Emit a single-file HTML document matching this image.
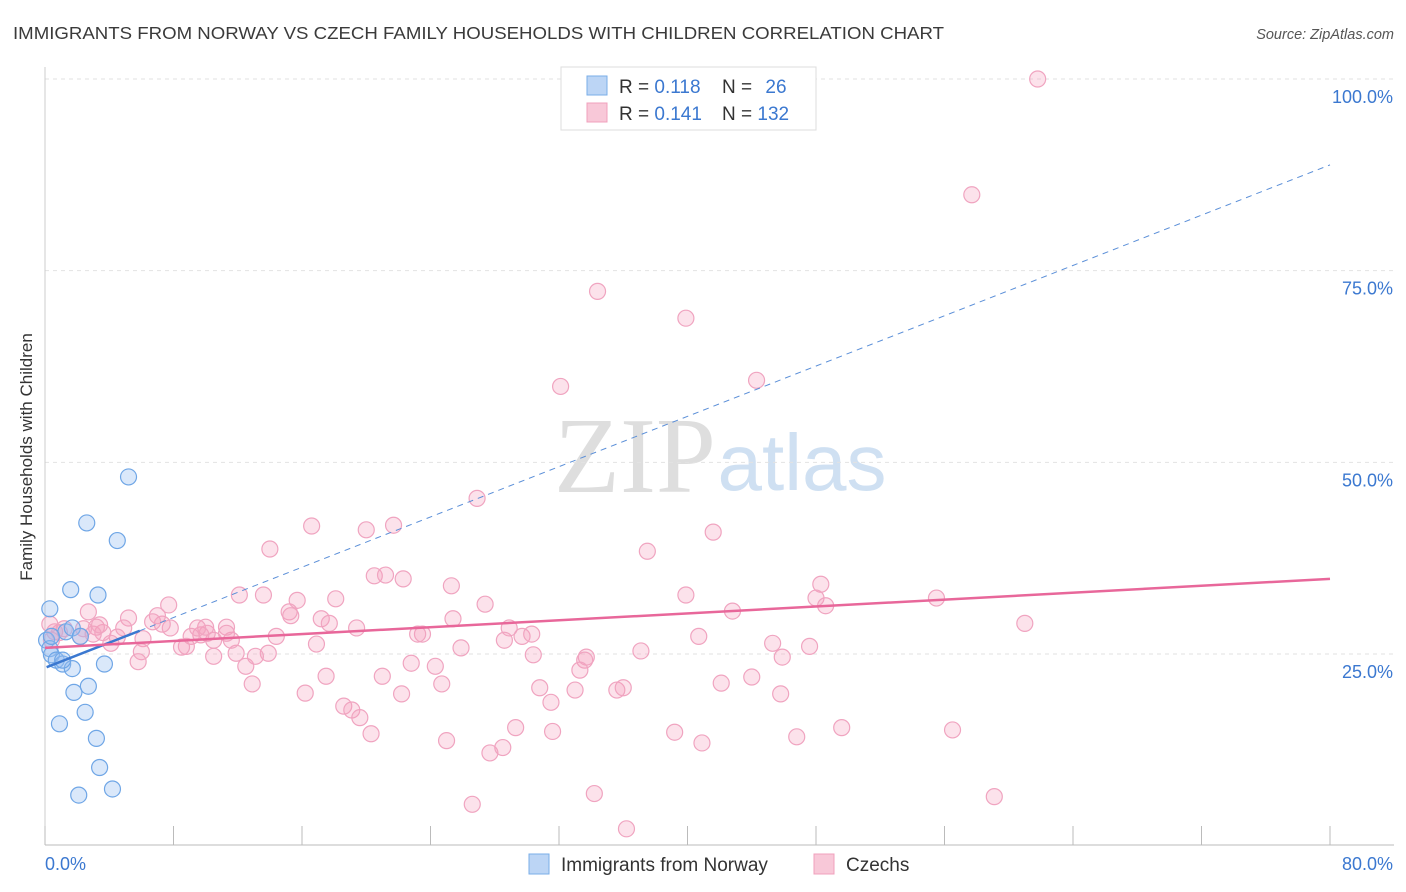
<!DOCTYPE html>
<html><head><meta charset="utf-8">
<style>
body{margin:0;background:#fff;font-family:"Liberation Sans",sans-serif;}
#wrap{position:relative;width:1406px;height:892px;overflow:hidden;}
</style></head>
<body>
<div id="wrap">
<svg id="chart" width="1406" height="892">
<text x="13" y="39" font-size="17.5" fill="#3a3a3a" textLength="931" lengthAdjust="spacingAndGlyphs">IMMIGRANTS FROM NORWAY VS CZECH FAMILY HOUSEHOLDS WITH CHILDREN CORRELATION CHART</text>
<text x="1394" y="39" font-size="14.5" fill="#555" font-style="italic" text-anchor="end">Source: ZipAtlas.com</text>
<text x="32" y="457" font-size="17" fill="#333" text-anchor="middle" transform="rotate(-90 32 457)">Family Households with Children</text>
<g>
<text x="635" y="492" font-size="108" fill="#dedede" font-family="Liberation Serif,serif" text-anchor="middle">ZIP</text>
<text x="802" y="490" font-size="80" fill="#cfe0f2" text-anchor="middle">atlas</text>
</g>
<g id="grid"></g>
<g id="axes"></g>
<g id="marks"></g>
<g id="lines"></g>
<g>
<rect x="561" y="67" width="255" height="63" fill="#fff" stroke="#ddd"/>
<rect x="587" y="76" width="20" height="19" fill="#bcd5f5" stroke="#7aaee8"/>
<rect x="587" y="103" width="20" height="19" fill="#f8c8d8" stroke="#f0a0bc"/>
<text x="619" y="93" font-size="19" fill="#333">R = <tspan fill="#3b78d0">0.118</tspan></text>
<text x="722" y="93" font-size="19" fill="#333">N = <tspan fill="#3b78d0" dx="8">26</tspan></text>
<text x="619" y="120" font-size="19" fill="#333">R = <tspan fill="#3b78d0">0.141</tspan></text>
<text x="722" y="120" font-size="19" fill="#333">N = <tspan fill="#3b78d0">132</tspan></text>
</g>
<g>
<rect x="529" y="854" width="20" height="20" fill="#bcd5f5" stroke="#7aaee8"/>
<text x="561" y="871" font-size="19" fill="#333">Immigrants from Norway</text>
<rect x="814" y="854" width="20" height="20" fill="#f8c8d8" stroke="#f0a0bc"/>
<text x="846" y="871" font-size="19" fill="#333">Czechs</text>
</g>
</svg>
</div>
<script>
const xTicks=[0,80];
const yTicks=[25,50,75,100];
const blueX=[0.3,0.1,0.3,0.4,0.7,1.1,1.7,1.1,1.6,2.6,4.5,5.2,3.3,1.3,1.7,2.2,3.7,1.8,2.7,0.9,2.5,3.2,3.4,2.1,4.2,0.4];
const blueY=[30.9,26.8,25.7,24.9,24.2,23.7,23.1,24.2,33.4,42.1,39.8,48.1,32.7,27.9,28.4,27.3,23.7,20.0,20.8,15.9,17.4,14.0,10.2,6.6,7.4,27.3];
const pinkX=[61.8,57.7,34.4,39.9,32.1,44.3,26.9,41.6,37.5,16.6,20.0,21.7,14.0,20.5,21.2,22.3,25.3,27.4,12.1,13.6,15.7,18.1,15.2,15.3,17.2,17.7,19.4,25.4,28.9,29.7,30.3,28.6,48.3,48.0,48.6,39.9,42.8,55.5,61.0,40.7,45.3,47.6,45.9,37.1,25.9,23.5,23.2,14.4,16.9,30.4,33.7,33.6,33.3,22.8,24.3,21.0,22.2,24.7,30.8,31.5,33.0,35.6,36.0,42.1,44.0,45.8,16.2,17.5,12.9,12.5,11.9,13.9,13.1,11.6,10.5,10.1,9.7,9.1,8.8,8.5,10.5,10.0,9.5,7.8,7.3,7.0,7.7,6.7,5.2,4.9,4.5,4.1,3.6,3.2,3.0,2.7,2.4,2.2,1.2,0.9,0.6,0.4,0.3,6.1,6.0,5.8,11.3,11.3,18.6,19.1,19.6,20.3,25.0,27.7,28.5,29.3,31.6,39.2,40.9,46.8,49.6,56.5,26.6,34.2,36.2,59.1,3.4];
const pinkY=[100.0,84.9,72.3,68.8,59.9,60.7,45.3,40.9,38.4,41.7,41.2,41.8,38.7,35.2,35.3,34.8,33.9,31.5,32.7,32.7,32.0,32.2,30.5,30.0,29.6,29.0,28.4,29.6,28.4,27.3,27.6,26.8,34.1,32.3,31.3,32.7,30.6,32.3,29.0,27.3,26.4,26.0,24.6,25.4,25.8,27.6,27.6,27.3,26.3,24.9,24.6,24.2,22.9,23.8,23.4,22.1,19.8,21.1,20.6,18.7,20.3,20.3,20.6,21.2,22.0,19.8,19.9,22.1,21.1,23.4,25.1,25.1,24.7,26.8,26.8,27.7,27.5,27.3,26.0,25.9,24.7,28.5,28.4,28.4,28.9,30.0,31.4,29.2,29.7,28.4,27.2,26.4,27.8,28.5,27.6,30.5,28.3,27.3,28.3,27.8,27.9,26.8,28.9,27.0,25.3,24.0,28.5,27.7,18.2,17.7,16.7,14.6,13.7,12.1,12.8,15.4,14.9,14.8,13.4,14.2,15.4,15.1,5.4,6.8,2.2,6.4,28.8];
const blueTrend=[23.2,88.8];
const pinkTrend=[25.8,34.8];
const blueSolidEnd=[5.9];

const NS="http://www.w3.org/2000/svg";
const X0=45,X1=1330,Y0=845.7,Y100=79;
const sx=v=>X0+(v-0)/80*(X1-X0);
const sy=v=>Y0-(v/100)*(Y0-Y100);
function mk(tag,attrs,parent){const e=document.createElementNS(NS,tag);for(const k in attrs)e.setAttribute(k,attrs[k]);parent.appendChild(e);return e;}
const grid=document.getElementById('grid'),axes=document.getElementById('axes'),marks=document.getElementById('marks'),lines=document.getElementById('lines');
yTicks.forEach(t=>{
  const l=mk('line',{x1:X0,x2:1394,y1:sy(t),y2:sy(t),stroke:'#e2e2e2','stroke-dasharray':'4,4'},grid);
  
  
  const tx=mk('text',{x:1393,y:sy(t)+24,'font-size':18,fill:'#3b78d0','text-anchor':'end'},axes);
  tx.textContent=t.toFixed(1)+'%';
  
  
});
const ax=mk('line',{x1:X0,x2:1394,y1:845,y2:845,stroke:'#bbb'},axes);


const ay=mk('line',{x1:X0,x2:X0,y1:67,y2:845,stroke:'#ccc'},axes);


for(let i=0;i<=10;i++){
  const v=i*8;
  const tk=mk('line',{x1:sx(v),x2:sx(v),y1:826,y2:845,stroke:'#bbb'},axes);
  
  
}
xTicks.forEach((t,i)=>{
  const tx=mk('text',{x:i==0?45:1393,y:870,'font-size':18,fill:'#3b78d0','text-anchor':i==0?'start':'end'},axes);
  tx.textContent=t.toFixed(1)+'%';
  
  
});
pinkX.forEach((x,i)=>{
  const c=mk('circle',{cx:sx(x),cy:sy(pinkY[i]),r:8,fill:'rgba(244,160,190,0.3)',stroke:'#f0a4c0','stroke-width':1.2},marks);
  
  
});
blueX.forEach((x,i)=>{
  const c=mk('circle',{cx:sx(x),cy:sy(blueY[i]),r:8,fill:'rgba(150,190,240,0.35)',stroke:'#6fa6e6','stroke-width':1.2},marks);
  
  
});
const bt=v=>blueTrend[0]+(blueTrend[1]-blueTrend[0])*v/80;
const pt=v=>pinkTrend[0]+(pinkTrend[1]-pinkTrend[0])*v/80;
const bd=mk('line',{x1:sx(blueSolidEnd[0]),y1:sy(bt(blueSolidEnd[0])),x2:sx(80),y2:sy(bt(80)),stroke:'#5b8fd8','stroke-width':1,'stroke-dasharray':'6,5'},lines);


const bs=mk('line',{x1:sx(0.1),y1:sy(bt(0.1)),x2:sx(blueSolidEnd[0]),y2:sy(bt(blueSolidEnd[0])),stroke:'#3b78d0','stroke-width':2.5},lines);


const ps=mk('line',{x1:sx(0),y1:sy(pt(0)),x2:sx(80),y2:sy(pt(80)),stroke:'#e8679a','stroke-width':2.5},lines);


</script>
</body></html>
